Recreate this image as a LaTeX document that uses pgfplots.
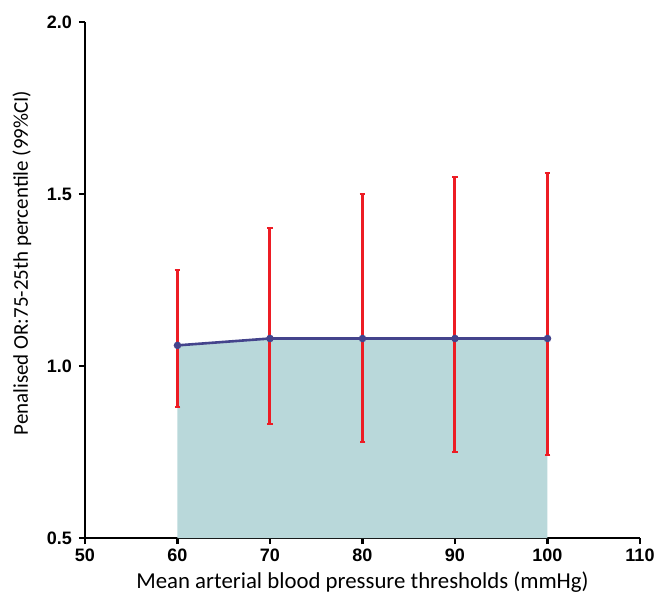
\documentclass[border=0pt]{standalone}
\usepackage{fontspec}
\setmainfont{Carlito}
\newfontfamily\arialfont{Liberation Sans}
\usepackage{pgfplots}
\pgfplotsset{compat=1.18}
\definecolor{fillteal}{RGB}{185,216,218}
\definecolor{navyline}{RGB}{68,68,140}
\definecolor{barred}{RGB}{237,28,36}
\begin{document}
\begin{tikzpicture}
\begin{axis}[
  scale only axis,
  width=277.5pt, height=258pt,
  xmin=50, xmax=110, ymin=0.5, ymax=2.0,
  xtick={50,60,...,110},
  ytick={0.5,1.0,1.5,2.0},
  yticklabel style={/pgf/number format/fixed,/pgf/number format/fixed zerofill,/pgf/number format/precision=1},
  /pgf/number format/assume math mode=true,
  axis x line*=bottom, axis y line*=left,
  axis line style={line width=1.3pt, black},
  tick style={line width=1.2pt, black},
  tick align=outside, major tick length=3pt,
  ticklabel style={font=\arialfont\bfseries\fontsize{9}{10}\selectfont},
  xticklabel style={yshift=1pt},
  xlabel={Mean arterial blood pressure thresholds (mmHg)},
  ylabel={Penalised OR:75-25th percentile (99\%CI)},
  xlabel style={font=\fontsize{11.4}{13}\selectfont, yshift=2pt},
  ylabel style={font=\fontsize{10.5}{12}\selectfont, yshift=1pt, xshift=8.5pt},
  clip=false,
]
\coordinate (ll) at (rel axis cs:0,0);
\coordinate (ur) at (rel axis cs:1,1);
% shaded area under the estimate
\addplot[fill=fillteal, draw=none] coordinates {
  (60,0.5) (60,1.06) (70,1.08) (80,1.08) (90,1.08) (100,1.08) (100,0.5)
} -- cycle;
% 99% CI
\addplot[draw=none, mark=none,
  error bars/.cd, y dir=both, y explicit,
  error mark=|, error mark options={barred, line width=1pt, mark size=1.4pt},
  error bar style={barred, line width=1.5pt}] coordinates {
  (60,1.06)  += (0,0.22) -= (0,0.18)
  (70,1.08)  += (0,0.32) -= (0,0.25)
  (80,1.08)  += (0,0.42) -= (0,0.30)
  (90,1.08)  += (0,0.47) -= (0,0.33)
  (100,1.08) += (0,0.48) -= (0,0.34)
};
% estimate
\addplot[navyline, line width=1.3pt, mark=*, mark size=1.2pt] coordinates {
  (60,1.06) (70,1.08) (80,1.08) (90,1.08) (100,1.08)
};
\end{axis}
\pgfresetboundingbox
\useasboundingbox ([shift={(-42.5pt,-31pt)}]ll) rectangle ([shift={(9.5pt,11pt)}]ur);
\end{tikzpicture}
\end{document}
